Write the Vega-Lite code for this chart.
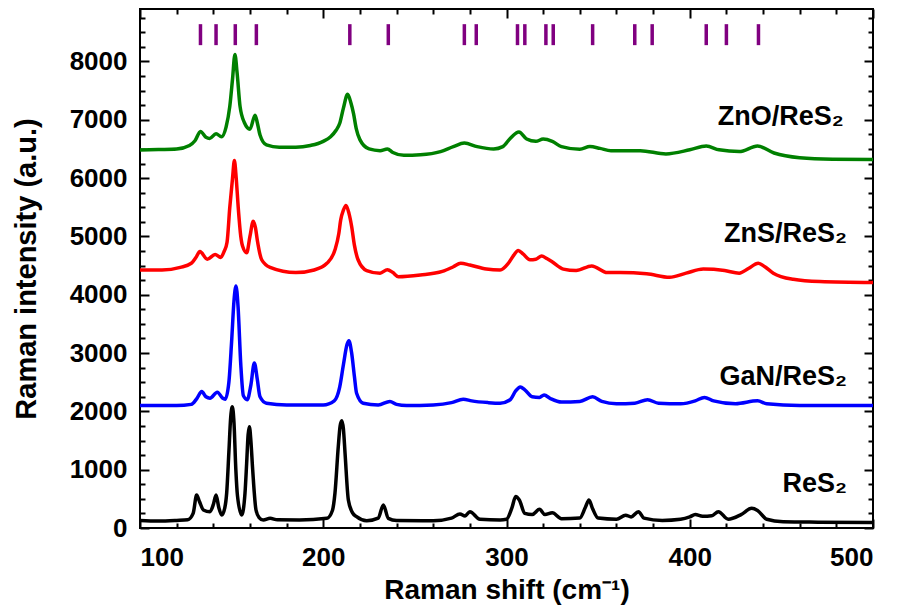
{
  "$schema": "https://vega.github.io/schema/vega-lite/v6.json",
  "width": 733,
  "height": 519,
  "autosize": "none",
  "padding": {"left": 140, "top": 9, "right": 28, "bottom": 83},
  "background": "white",
  "config": {
    "view": {"stroke": "black", "strokeWidth": 2},
    "font": "Liberation Sans",
    "axis": {"tickColor": "black", "tickWidth": 2, "domain": false, "grid": false, "labelColor": "black", "titleColor": "black"}
  },
  "datasets": {
    "spectra": [
      {"s":"ZnO","x":100,"y":6480},{"s":"ZnO","x":110,"y":6490},{"s":"ZnO","x":120,"y":6500},{"s":"ZnO","x":127,"y":6560},{"s":"ZnO","x":130,"y":6640},{"s":"ZnO","x":133,"y":6800},{"s":"ZnO","x":136,"y":6700},{"s":"ZnO","x":138,"y":6680},{"s":"ZnO","x":141.5,"y":6760},{"s":"ZnO","x":144.5,"y":6710},{"s":"ZnO","x":147,"y":6880},{"s":"ZnO","x":149,"y":7230},{"s":"ZnO","x":150.5,"y":7700},{"s":"ZnO","x":151.8,"y":8120},{"s":"ZnO","x":153,"y":7800},{"s":"ZnO","x":154.6,"y":7230},{"s":"ZnO","x":157,"y":6950},{"s":"ZnO","x":160,"y":6840},{"s":"ZnO","x":162.8,"y":7080},{"s":"ZnO","x":164,"y":6950},{"s":"ZnO","x":165.5,"y":6740},{"s":"ZnO","x":169,"y":6570},{"s":"ZnO","x":176,"y":6530},{"s":"ZnO","x":185,"y":6530},{"s":"ZnO","x":193,"y":6560},{"s":"ZnO","x":200,"y":6630},{"s":"ZnO","x":204,"y":6710},{"s":"ZnO","x":207,"y":6820},{"s":"ZnO","x":209,"y":6940},{"s":"ZnO","x":211,"y":7200},{"s":"ZnO","x":213.3,"y":7440},{"s":"ZnO","x":215,"y":7300},{"s":"ZnO","x":216.5,"y":7110},{"s":"ZnO","x":218,"y":6850},{"s":"ZnO","x":220,"y":6660},{"s":"ZnO","x":225,"y":6500},{"s":"ZnO","x":231,"y":6470},{"s":"ZnO","x":235,"y":6500},{"s":"ZnO","x":238,"y":6440},{"s":"ZnO","x":244,"y":6390},{"s":"ZnO","x":253,"y":6400},{"s":"ZnO","x":264,"y":6455},{"s":"ZnO","x":271,"y":6540},{"s":"ZnO","x":277,"y":6600},{"s":"ZnO","x":284,"y":6540},{"s":"ZnO","x":293,"y":6500},{"s":"ZnO","x":298,"y":6540},{"s":"ZnO","x":302,"y":6680},{"s":"ZnO","x":306.8,"y":6790},{"s":"ZnO","x":311,"y":6670},{"s":"ZnO","x":316,"y":6630},{"s":"ZnO","x":320,"y":6670},{"s":"ZnO","x":325,"y":6630},{"s":"ZnO","x":330,"y":6540},{"s":"ZnO","x":340,"y":6495},{"s":"ZnO","x":345.5,"y":6540},{"s":"ZnO","x":351,"y":6510},{"s":"ZnO","x":357,"y":6470},{"s":"ZnO","x":367,"y":6470},{"s":"ZnO","x":373,"y":6470},{"s":"ZnO","x":387,"y":6415},{"s":"ZnO","x":400,"y":6485},{"s":"ZnO","x":409,"y":6550},{"s":"ZnO","x":416,"y":6485},{"s":"ZnO","x":427,"y":6455},{"s":"ZnO","x":437,"y":6550},{"s":"ZnO","x":446,"y":6430},{"s":"ZnO","x":460,"y":6350},{"s":"ZnO","x":478,"y":6325},{"s":"ZnO","x":500,"y":6320},

      {"s":"ZnS","x":100,"y":4425},{"s":"ZnS","x":112,"y":4425},{"s":"ZnS","x":122,"y":4470},{"s":"ZnS","x":128,"y":4540},{"s":"ZnS","x":130.5,"y":4640},{"s":"ZnS","x":132.7,"y":4740},{"s":"ZnS","x":136.7,"y":4610},{"s":"ZnS","x":141,"y":4690},{"s":"ZnS","x":144,"y":4640},{"s":"ZnS","x":146,"y":4750},{"s":"ZnS","x":147.5,"y":4900},{"s":"ZnS","x":149,"y":5500},{"s":"ZnS","x":150.5,"y":6000},{"s":"ZnS","x":151.5,"y":6300},{"s":"ZnS","x":152.5,"y":6000},{"s":"ZnS","x":153.6,"y":5500},{"s":"ZnS","x":155,"y":5000},{"s":"ZnS","x":156,"y":4830},{"s":"ZnS","x":158.2,"y":4720},{"s":"ZnS","x":160,"y":5000},{"s":"ZnS","x":161.8,"y":5260},{"s":"ZnS","x":163,"y":5150},{"s":"ZnS","x":164,"y":4940},{"s":"ZnS","x":166.4,"y":4600},{"s":"ZnS","x":171,"y":4470},{"s":"ZnS","x":185,"y":4380},{"s":"ZnS","x":195,"y":4425},{"s":"ZnS","x":202,"y":4540},{"s":"ZnS","x":206.4,"y":4770},{"s":"ZnS","x":208.5,"y":5050},{"s":"ZnS","x":209.5,"y":5280},{"s":"ZnS","x":211,"y":5450},{"s":"ZnS","x":212.4,"y":5530},{"s":"ZnS","x":214,"y":5400},{"s":"ZnS","x":215.5,"y":5170},{"s":"ZnS","x":217,"y":4850},{"s":"ZnS","x":219,"y":4600},{"s":"ZnS","x":223.7,"y":4415},{"s":"ZnS","x":231,"y":4370},{"s":"ZnS","x":235,"y":4430},{"s":"ZnS","x":238,"y":4380},{"s":"ZnS","x":241,"y":4310},{"s":"ZnS","x":253,"y":4340},{"s":"ZnS","x":265,"y":4400},{"s":"ZnS","x":271,"y":4480},{"s":"ZnS","x":275,"y":4540},{"s":"ZnS","x":280,"y":4510},{"s":"ZnS","x":289,"y":4440},{"s":"ZnS","x":296.5,"y":4425},{"s":"ZnS","x":301,"y":4540},{"s":"ZnS","x":304,"y":4680},{"s":"ZnS","x":306.4,"y":4760},{"s":"ZnS","x":309,"y":4700},{"s":"ZnS","x":312.8,"y":4600},{"s":"ZnS","x":316,"y":4610},{"s":"ZnS","x":319.2,"y":4665},{"s":"ZnS","x":322,"y":4620},{"s":"ZnS","x":324.7,"y":4570},{"s":"ZnS","x":331,"y":4440},{"s":"ZnS","x":338,"y":4415},{"s":"ZnS","x":346.5,"y":4495},{"s":"ZnS","x":355,"y":4380},{"s":"ZnS","x":362,"y":4380},{"s":"ZnS","x":376.5,"y":4360},{"s":"ZnS","x":389,"y":4300},{"s":"ZnS","x":398,"y":4370},{"s":"ZnS","x":407.4,"y":4440},{"s":"ZnS","x":419,"y":4415},{"s":"ZnS","x":427,"y":4370},{"s":"ZnS","x":432,"y":4450},{"s":"ZnS","x":437.4,"y":4540},{"s":"ZnS","x":441,"y":4480},{"s":"ZnS","x":445.6,"y":4370},{"s":"ZnS","x":456.5,"y":4265},{"s":"ZnS","x":471,"y":4225},{"s":"ZnS","x":500,"y":4208},

      {"s":"GaN","x":100,"y":2100},{"s":"GaN","x":120,"y":2100},{"s":"GaN","x":128,"y":2120},{"s":"GaN","x":131,"y":2220},{"s":"GaN","x":133.7,"y":2340},{"s":"GaN","x":136,"y":2250},{"s":"GaN","x":138.2,"y":2225},{"s":"GaN","x":142.2,"y":2330},{"s":"GaN","x":145,"y":2230},{"s":"GaN","x":146.5,"y":2210},{"s":"GaN","x":148.5,"y":2500},{"s":"GaN","x":150,"y":3200},{"s":"GaN","x":151.3,"y":3900},{"s":"GaN","x":152.4,"y":4150},{"s":"GaN","x":153.5,"y":3800},{"s":"GaN","x":155,"y":2800},{"s":"GaN","x":156.4,"y":2270},{"s":"GaN","x":158.5,"y":2200},{"s":"GaN","x":160.5,"y":2450},{"s":"GaN","x":162.4,"y":2830},{"s":"GaN","x":164,"y":2550},{"s":"GaN","x":165.5,"y":2250},{"s":"GaN","x":169,"y":2140},{"s":"GaN","x":180,"y":2110},{"s":"GaN","x":200,"y":2110},{"s":"GaN","x":206,"y":2180},{"s":"GaN","x":209,"y":2420},{"s":"GaN","x":211,"y":2800},{"s":"GaN","x":213,"y":3150},{"s":"GaN","x":214,"y":3210},{"s":"GaN","x":215.5,"y":3000},{"s":"GaN","x":217,"y":2600},{"s":"GaN","x":218.2,"y":2310},{"s":"GaN","x":221.8,"y":2140},{"s":"GaN","x":230,"y":2110},{"s":"GaN","x":236.4,"y":2170},{"s":"GaN","x":240,"y":2120},{"s":"GaN","x":245.5,"y":2100},{"s":"GaN","x":260,"y":2110},{"s":"GaN","x":270,"y":2150},{"s":"GaN","x":276.4,"y":2210},{"s":"GaN","x":281,"y":2180},{"s":"GaN","x":290,"y":2150},{"s":"GaN","x":296.5,"y":2140},{"s":"GaN","x":302,"y":2200},{"s":"GaN","x":305,"y":2350},{"s":"GaN","x":307.5,"y":2420},{"s":"GaN","x":310,"y":2370},{"s":"GaN","x":314,"y":2250},{"s":"GaN","x":318,"y":2240},{"s":"GaN","x":320.5,"y":2280},{"s":"GaN","x":324,"y":2220},{"s":"GaN","x":330,"y":2160},{"s":"GaN","x":340,"y":2170},{"s":"GaN","x":347,"y":2250},{"s":"GaN","x":352,"y":2170},{"s":"GaN","x":360,"y":2130},{"s":"GaN","x":370,"y":2140},{"s":"GaN","x":377,"y":2200},{"s":"GaN","x":383,"y":2140},{"s":"GaN","x":395,"y":2130},{"s":"GaN","x":403,"y":2180},{"s":"GaN","x":408,"y":2240},{"s":"GaN","x":413,"y":2180},{"s":"GaN","x":425,"y":2130},{"s":"GaN","x":437,"y":2180},{"s":"GaN","x":442,"y":2130},{"s":"GaN","x":460,"y":2100},{"s":"GaN","x":480,"y":2100},{"s":"GaN","x":500,"y":2100},

      {"s":"ReS2","x":100,"y":130},{"s":"ReS2","x":110,"y":120},{"s":"ReS2","x":120,"y":130},{"s":"ReS2","x":126,"y":140},{"s":"ReS2","x":129,"y":250},{"s":"ReS2","x":130.9,"y":566},{"s":"ReS2","x":132.5,"y":450},{"s":"ReS2","x":134.6,"y":310},{"s":"ReS2","x":138.2,"y":280},{"s":"ReS2","x":140,"y":400},{"s":"ReS2","x":141.5,"y":566},{"s":"ReS2","x":143,"y":350},{"s":"ReS2","x":144.6,"y":223},{"s":"ReS2","x":146.3,"y":350},{"s":"ReS2","x":147.3,"y":600},{"s":"ReS2","x":148.5,"y":1300},{"s":"ReS2","x":149.5,"y":1900},{"s":"ReS2","x":150.4,"y":2080},{"s":"ReS2","x":151.3,"y":1800},{"s":"ReS2","x":152.3,"y":1000},{"s":"ReS2","x":153.2,"y":550},{"s":"ReS2","x":155.5,"y":223},{"s":"ReS2","x":157.3,"y":600},{"s":"ReS2","x":158.2,"y":1110},{"s":"ReS2","x":159,"y":1600},{"s":"ReS2","x":159.7,"y":1738},{"s":"ReS2","x":160.5,"y":1500},{"s":"ReS2","x":161.5,"y":995},{"s":"ReS2","x":163.3,"y":309},{"s":"ReS2","x":165,"y":180},{"s":"ReS2","x":167.3,"y":137},{"s":"ReS2","x":171,"y":166},{"s":"ReS2","x":175,"y":140},{"s":"ReS2","x":187,"y":137},{"s":"ReS2","x":202,"y":166},{"s":"ReS2","x":205,"y":300},{"s":"ReS2","x":206.4,"y":600},{"s":"ReS2","x":208.2,"y":1395},{"s":"ReS2","x":209.2,"y":1750},{"s":"ReS2","x":210.1,"y":1841},{"s":"ReS2","x":211,"y":1700},{"s":"ReS2","x":211.9,"y":1281},{"s":"ReS2","x":213.7,"y":480},{"s":"ReS2","x":216,"y":260},{"s":"ReS2","x":218.2,"y":194},{"s":"ReS2","x":223.7,"y":125},{"s":"ReS2","x":230,"y":170},{"s":"ReS2","x":232.8,"y":395},{"s":"ReS2","x":235.5,"y":166},{"s":"ReS2","x":240,"y":130},{"s":"ReS2","x":260,"y":125},{"s":"ReS2","x":270,"y":170},{"s":"ReS2","x":274.6,"y":240},{"s":"ReS2","x":277.4,"y":206},{"s":"ReS2","x":280,"y":280},{"s":"ReS2","x":285.5,"y":149},{"s":"ReS2","x":296.5,"y":137},{"s":"ReS2","x":300,"y":150},{"s":"ReS2","x":303,"y":350},{"s":"ReS2","x":305,"y":540},{"s":"ReS2","x":307,"y":480},{"s":"ReS2","x":310,"y":250},{"s":"ReS2","x":314,"y":230},{"s":"ReS2","x":318,"y":320},{"s":"ReS2","x":321,"y":230},{"s":"ReS2","x":325,"y":260},{"s":"ReS2","x":330,"y":160},{"s":"ReS2","x":340,"y":170},{"s":"ReS2","x":343,"y":350},{"s":"ReS2","x":345,"y":480},{"s":"ReS2","x":347,"y":330},{"s":"ReS2","x":350,"y":170},{"s":"ReS2","x":360,"y":150},{"s":"ReS2","x":365,"y":220},{"s":"ReS2","x":368,"y":190},{"s":"ReS2","x":372,"y":280},{"s":"ReS2","x":375,"y":170},{"s":"ReS2","x":385,"y":130},{"s":"ReS2","x":395,"y":150},{"s":"ReS2","x":400,"y":190},{"s":"ReS2","x":403,"y":230},{"s":"ReS2","x":407,"y":200},{"s":"ReS2","x":412,"y":210},{"s":"ReS2","x":415.6,"y":280},{"s":"ReS2","x":421,"y":150},{"s":"ReS2","x":428,"y":230},{"s":"ReS2","x":433.8,"y":337},{"s":"ReS2","x":437,"y":300},{"s":"ReS2","x":442,"y":150},{"s":"ReS2","x":451,"y":108},{"s":"ReS2","x":470,"y":100},{"s":"ReS2","x":500,"y":95}
    ],
    "marks": [
      {"x":133},{"x":141.5},{"x":152},{"x":163.5},{"x":214.5},{"x":235.5},{"x":277},{"x":283.5},{"x":306},{"x":310},{"x":321.5},{"x":325.5},{"x":347},{"x":370},{"x":379.5},{"x":409},{"x":420},{"x":437.5}
    ],
    "labels": [
      {"g":"a","x":484,"y":6910,"t":"ZnO/ReS₂"},
      {"g":"a","x":485.8,"y":4900,"t":"ZnS/ReS₂"},
      {"g":"b","x":485.8,"y":2450,"t":"GaN/ReS₂"},
      {"g":"b","x":485.8,"y":623,"t":"ReS₂"}
    ]
  },
  "resolve": {"axis": {"x": "independent", "y": "independent"}},
  "layer": [
    {
      "data": {"name": "spectra"},
      "mark": {"type": "line", "strokeWidth": 3.5, "interpolate": "monotone"},
      "encoding": {
        "x": {"field": "x", "type": "quantitative",
          "scale": {"domain": [100, 500], "nice": false, "zero": false},
          "axis": {"orient": "bottom", "values": [100,200,300,400,500], "tickSize": -9,
            "labelFont": "Liberation Sans", "labelFontSize": 26, "labelFontWeight": "bold", "labelPadding": 25,
            "title": "Raman shift (cm⁻¹)", "titleFont": "Liberation Sans", "titleFontSize": 28, "titleFontWeight": "bold", "titlePadding": 6}},
        "y": {"field": "y", "type": "quantitative",
          "scale": {"domain": [0, 8900], "nice": false, "zero": false},
          "axis": {"orient": "left", "values": [0,1000,2000,3000,4000,5000,6000,7000,8000], "format": "d", "tickSize": -9,
            "labelFont": "Liberation Sans", "labelFontSize": 26, "labelFontWeight": "bold", "labelPadding": 22,
            "title": "Raman intensity (a.u.)", "titleFont": "Liberation Sans", "titleFontSize": 29, "titleFontWeight": "bold", "titlePadding": 28}},
        "color": {"field": "s", "type": "nominal",
          "scale": {"domain": ["ReS2", "GaN", "ZnS", "ZnO"], "range": ["#000000", "#0000ff", "#ff0000", "#008000"]},
          "legend": null}
      }
    },
    {
      "data": {"name": "marks"},
      "mark": {"type": "rule", "color": "#800080", "strokeWidth": 3.5},
      "encoding": {
        "x": {"field": "x", "type": "quantitative",
          "axis": {"orient": "top", "values": [100,200,300,400,500], "tickSize": -9, "labels": false, "title": null}},
        "y": {"datum": 8280, "type": "quantitative",
          "axis": {"orient": "right", "values": [0,1000,2000,3000,4000,5000,6000,7000,8000], "tickSize": -9, "labels": false, "title": null}},
        "y2": {"datum": 8640}
      }
    },
    {
      "data": {"name": "labels"},
      "transform": [{"filter": "datum.g == 'a'"}],
      "mark": {"type": "text", "align": "right", "baseline": "alphabetic", "font": "Liberation Sans", "fontSize": 27, "fontWeight": "bold", "color": "black"},
      "encoding": {
        "x": {"field": "x", "type": "quantitative",
          "axis": {"orient": "bottom", "values": [120,140,160,180,220,240,260,280,320,340,360,380,420,440,460,480], "tickSize": -5, "labels": false, "title": null}},
        "y": {"field": "y", "type": "quantitative",
          "axis": {"orient": "left", "values": [250,500,750,1250,1500,1750,2250,2500,2750,3250,3500,3750,4250,4500,4750,5250,5500,5750,6250,6500,6750,7250,7500,7750,8250,8500,8750], "tickSize": -5, "labels": false, "title": null}},
        "text": {"field": "t"}
      }
    },
    {
      "data": {"name": "labels"},
      "transform": [{"filter": "datum.g == 'b'"}],
      "mark": {"type": "text", "align": "right", "baseline": "alphabetic", "font": "Liberation Sans", "fontSize": 27, "fontWeight": "bold", "color": "black"},
      "encoding": {
        "x": {"field": "x", "type": "quantitative",
          "axis": {"orient": "top", "values": [120,140,160,180,220,240,260,280,320,340,360,380,420,440,460,480], "tickSize": -5, "labels": false, "title": null}},
        "y": {"field": "y", "type": "quantitative",
          "axis": {"orient": "right", "values": [250,500,750,1250,1500,1750,2250,2500,2750,3250,3500,3750,4250,4500,4750,5250,5500,5750,6250,6500,6750,7250,7500,7750,8250,8500,8750], "tickSize": -5, "labels": false, "title": null}},
        "text": {"field": "t"}
      }
    }
  ]
}
